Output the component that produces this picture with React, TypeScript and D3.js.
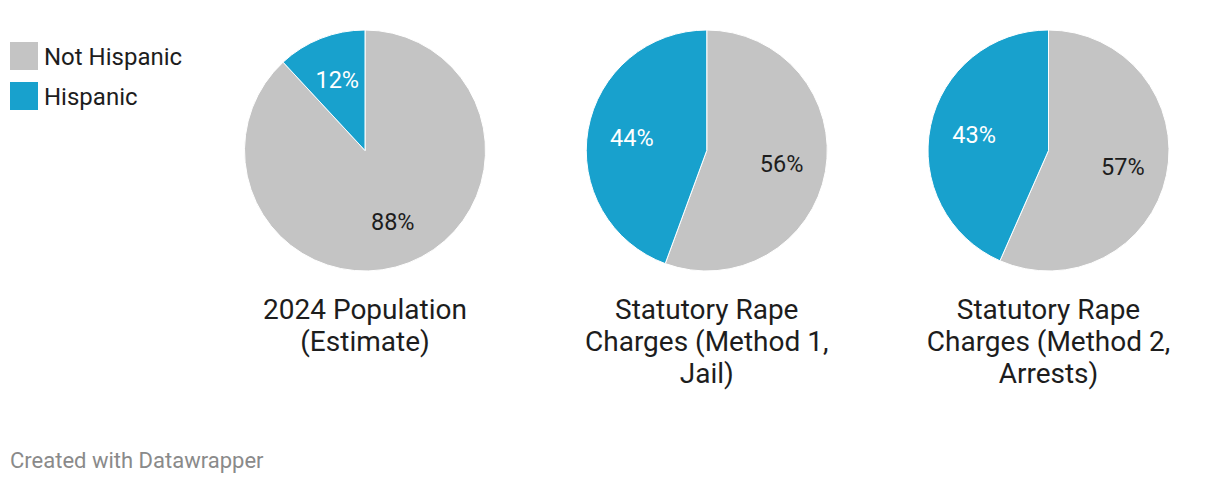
import React from "react";
import * as d3 from "d3";

const categories = ["Not Hispanic", "Hispanic"];
const colors = ["#c4c4c4", "#18a1cd"];
const labelColors = ["#1d1d1d", "#ffffff"];
const chartTitles = [
  ["2024 Population", "(Estimate)"],
  ["Statutory Rape", "Charges (Method 1,", "Jail)"],
  ["Statutory Rape", "Charges (Method 2,", "Arrests)"],
];
const notHispanic = [88.1, 55.6, 56.6];
const hispanic = [11.9, 44.4, 43.4];

const W = 1220;
const H = 484;
const FONT = "Roboto, 'Noto Sans', sans-serif";

export default function App() {
  const centers = d3.scaleLinear().domain([0, 2]).range([365, 1048.5]);
  const R = 120.5;
  const cy = 150.5;
  const pie = d3.pie<number>().sort(null).value((d) => d);
  const arc = d3.arc<d3.PieArcDatum<number>>().innerRadius(0).outerRadius(R);
  const labelArc = d3.arc<d3.PieArcDatum<number>>().innerRadius(76).outerRadius(76);
  const fmt = d3.format(".0f");

  return (
    <svg width={W} height={H} style={{ position: "absolute", left: 0, top: 0, background: "#fff" }} fontFamily={FONT}>
      {categories.map((c, i) => (
        <g key={c}>
          <rect x={10} y={42 + i * 40} width={28} height={28} fill={colors[i]} />
          <text x={44} y={64.5 + i * 40} fontSize={24} fill="#1d1d1d">{c}</text>
        </g>
      ))}
      {chartTitles.map((title, k) => {
        const cx = centers(k);
        const arcs = pie([notHispanic[k], hispanic[k]]);
        return (
          <g key={k}>
            <g transform={`translate(${cx},${cy})`}>
              {arcs.map((a, i) => (
                <path key={i} d={arc(a) || ""} fill={colors[i]} stroke="#fff" strokeWidth={1} />
              ))}
              {arcs.map((a, i) => {
                const [x, y] = labelArc.centroid(a);
                return (
                  <text key={"l" + i} x={x} y={y} dy="0.36em" textAnchor="middle" fontSize={23.5} fill={labelColors[i]}>
                    {fmt(a.data)}%
                  </text>
                );
              })}
            </g>
            <text x={cx} y={319} textAnchor="middle" fontSize={28} fill="#1d1d1d">
              {title.map((line, j) => (
                <tspan key={j} x={cx} dy={j === 0 ? 0 : 32}>{line}</tspan>
              ))}
            </text>
          </g>
        );
      })}
      <text x={10} y={468} fontSize={22} fill="#8a8a8a">Created with Datawrapper</text>
    </svg>
  );
}
